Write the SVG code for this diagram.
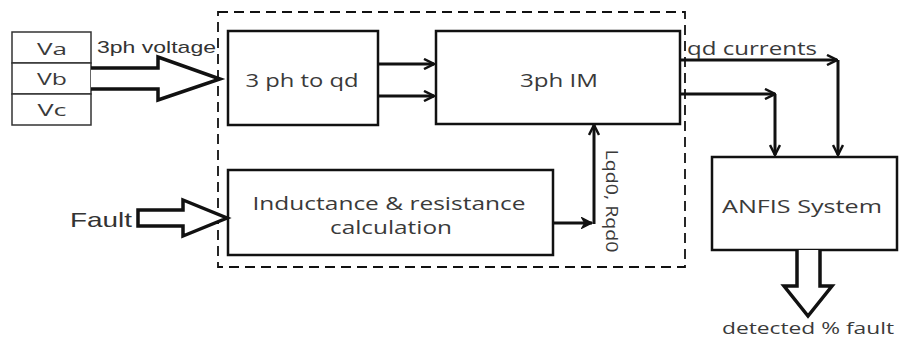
<svg xmlns="http://www.w3.org/2000/svg" width="901" height="340" viewBox="0 0 901 340">
<defs>
<marker id="ah" viewBox="0 0 12 12" refX="11" refY="6" markerWidth="12" markerHeight="12" markerUnits="userSpaceOnUse" orient="auto">
<path d="M1,1 L11,6 L1,11" fill="none" stroke="#111" stroke-width="2.5"/>
</marker>
<marker id="fh" viewBox="0 0 12 12" refX="11" refY="6" markerWidth="12" markerHeight="12" markerUnits="userSpaceOnUse" orient="auto">
<path d="M1,1 L11,6 L1,11 L4,6 Z" fill="#111" stroke="#111" stroke-width="1.5"/>
</marker>
</defs>
<style>
.box{fill:#fff;stroke:#111;stroke-width:2.5}
.thin{fill:#fff;stroke:#333;stroke-width:1.5}
.lbl{font-family:"Open Sans","DejaVu Sans",sans-serif;fill:#3a3a3a;text-anchor:middle}
.ar{font-family:"Liberation Sans",Arial,sans-serif;fill:#333}
.wire{fill:none;stroke:#111;stroke-width:3}
.hollow{fill:#fff;stroke:#111;stroke-width:3.5;stroke-linejoin:miter}
</style>
<rect width="901" height="340" fill="#fff"/>
<g id="subsystem">
<rect x="218" y="12" width="467" height="255" fill="none" stroke="#111" stroke-width="1.8" stroke-dasharray="10,6"/>
</g>
<g id="inputs">
<rect class="thin" x="12" y="32" width="79" height="31"/>
<rect class="thin" x="12" y="63" width="79" height="31"/>
<rect class="thin" x="12" y="94" width="79" height="31"/>
<text class="lbl" x="52" y="55" font-size="17" textLength="30" lengthAdjust="spacingAndGlyphs">Va</text>
<text class="lbl" x="52" y="85" font-size="17" textLength="30" lengthAdjust="spacingAndGlyphs">Vb</text>
<text class="lbl" x="52" y="116" font-size="17" textLength="29" lengthAdjust="spacingAndGlyphs">Vc</text>
</g>
<g id="converter">
<rect class="box" x="228" y="31" width="150" height="94"/>
<text class="lbl" x="302" y="87" font-size="19" textLength="113" lengthAdjust="spacingAndGlyphs">3 ph to qd</text>
</g>
<g id="motor">
<rect class="box" x="436" y="31" width="244" height="93"/>
<text class="lbl" x="559" y="87" font-size="19" textLength="78" lengthAdjust="spacingAndGlyphs">3ph IM</text>
</g>
<g id="calc">
<rect class="box" x="228" y="170" width="325" height="85"/>
<text class="lbl" x="389" y="210" font-size="19" textLength="273" lengthAdjust="spacingAndGlyphs">Inductance &amp; resistance</text>
<text class="lbl" x="391" y="234" font-size="19" textLength="122" lengthAdjust="spacingAndGlyphs">calculation</text>
</g>
<g id="anfis">
<rect class="box" x="712" y="157" width="185" height="93"/>
<text class="lbl" x="802" y="213" font-size="18.5" textLength="160" lengthAdjust="spacingAndGlyphs">ANFIS System</text>
</g>
<g id="connectors">
<path class="hollow" d="M91,68 L158,68 L158,57 L220,79 L158,100 L158,89 L91,89"/>
<text class="ar" x="97" y="53" font-size="17" textLength="119" lengthAdjust="spacingAndGlyphs">3ph voltage</text>
<path class="hollow" d="M138,210 L183,210 L183,200 L227,218 L183,236 L183,226 L138,226 Z"/>
<text class="ar" x="70" y="227" font-size="21" textLength="62" lengthAdjust="spacingAndGlyphs">Fault</text>
<path class="wire" d="M680,60 L837,60" marker-end="url(#ah)"/>
<path class="wire" d="M838,60 L838,155" marker-end="url(#ah)"/>
<text class="lbl" x="752" y="55" font-size="18" textLength="130" lengthAdjust="spacingAndGlyphs">qd currents</text>
<path class="wire" d="M378,64 L434,64" marker-end="url(#ah)"/>
<path class="wire" d="M378,96 L434,96" marker-end="url(#ah)"/>
<path class="wire" d="M680,94 L775,94" marker-end="url(#ah)"/>
<path class="wire" d="M775,94 L775,155" marker-end="url(#ah)"/>
<path class="wire" d="M553,223 L592,223" marker-end="url(#fh)"/>
<path class="wire" d="M594,224 L594,125" marker-end="url(#ah)"/>
<text class="lbl" transform="translate(606,201) rotate(90)" font-size="17" textLength="103" lengthAdjust="spacingAndGlyphs">Lqd0, Rqd0</text>
<path class="hollow" d="M797,250 L797,286 L784,286 L808,316 L832,286 L820,286 L820,250"/>
<text class="lbl" x="808" y="334" font-size="16" textLength="172" lengthAdjust="spacingAndGlyphs">detected % fault</text>
</g>
</svg>
